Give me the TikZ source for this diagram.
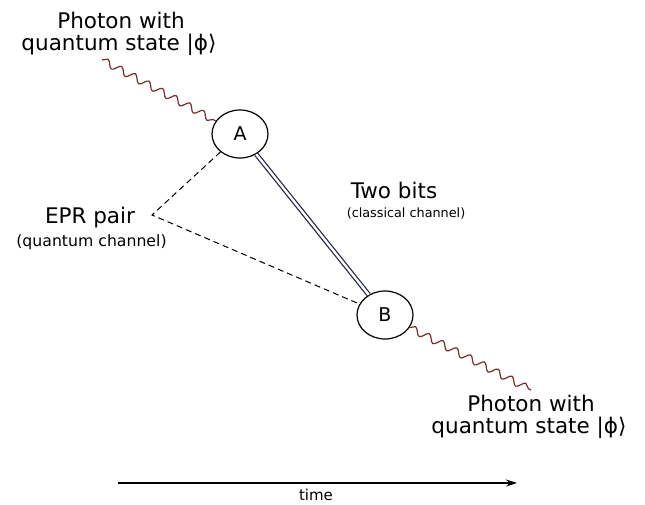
\documentclass[tikz,border=0pt]{standalone}
\usepackage{fontspec}
\setmainfont{DejaVu Sans}
\usetikzlibrary{shapes.geometric,decorations.pathmorphing,arrows.meta}
\definecolor{wavecol}{HTML}{7A2C2C}
\definecolor{chan}{HTML}{1E2240}
\tikzset{
  party/.style={ellipse,draw,line width=1.2pt,minimum width=56pt,minimum height=48pt,inner sep=0pt,font=\fontsize{19}{21}\selectfont},
  photon/.style={draw=wavecol,line width=1.2pt,decorate,decoration={snake,segment length=15.5pt,amplitude=3.6pt}},
  bigtext/.style={font=\fontsize{21.5}{24}\selectfont,align=center,inner sep=0pt},
  qtext/.style={font=\fontsize{15.7}{18}\selectfont,align=center,inner sep=0pt},
  ctext/.style={font=\fontsize{12.8}{15}\selectfont,align=center,inner sep=0pt},
  timetext/.style={font=\fontsize{15}{17}\selectfont,inner sep=0pt},
  classical/.style={draw=chan,line width=1.2pt,double=white,double distance=2.4pt},
  quantum/.style={draw,line width=1pt,dash pattern=on 6pt off 4pt}
}
\begin{document}
\begin{tikzpicture}[x=1pt,y=-1pt]
\useasboundingbox (0,0) rectangle (645,504);
\node[party] (A) at (240,134) {A};
\node[party] (B) at (385,315) {B};
\coordinate (w1) at (102,60);
\coordinate (w2) at (531,390);
\coordinate (epr) at (152,215);
\coordinate (t0) at (118,483);
\coordinate (t1) at (517,483);
\node[bigtext] (ptop1) at (121,20) {Photon with};
\node[bigtext] (ptop2) at (119,45) {quantum state |ϕ⟩};
\node[bigtext] (pbot1) at (531,403) {Photon with};
\node[bigtext] (pbot2) at (529,428) {quantum state |ϕ⟩};
\node[bigtext] (eprl) at (90,218) {EPR pair};
\node[qtext] (eprs) at (91.5,242) {(quantum channel)};
\node[bigtext] (twob) at (394,190) {Two bits};
\node[ctext] (twos) at (406,213) {(classical channel)};
\node[timetext] (timel) at (316,495) {time};
\draw[photon] (w1) -- (A);
\draw[photon] (B) -- (w2);
\draw[classical] (A) -- (B);
\draw[quantum] (A) -- (epr) -- (B);
\draw[line width=1.1pt,-{Stealth[length=11pt,width=7pt]}] (t0) -- (t1);
\end{tikzpicture}
\end{document}
